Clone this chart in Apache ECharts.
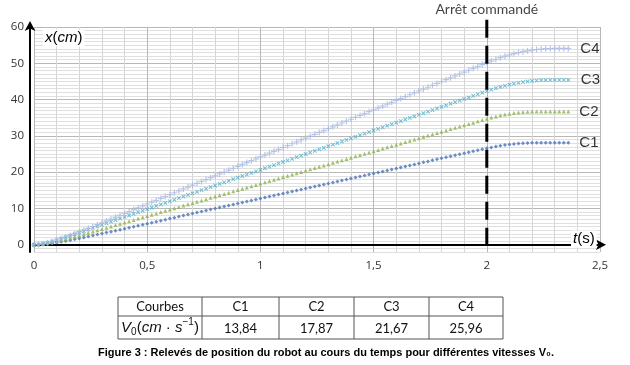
<!DOCTYPE html>
<html><head><meta charset="utf-8">
<script src="https://cdn.jsdelivr.net/npm/echarts@6/dist/echarts.min.js"></script>
<style>html,body{margin:0;padding:0;background:#fff}#c{width:630px;height:365px}</style>
</head><body><div id="c"></div>
<script>
const times = [0,0.02,0.04,0.06,0.08,0.10,0.12,0.14,0.16,0.18,0.20,0.22,0.24,0.26,0.28,0.30,0.32,0.34,0.36,0.38,0.40,
0.42,0.44,0.46,0.48,0.50,0.52,0.54,0.56,0.58,0.60,0.62,0.64,0.66,0.68,0.70,0.72,0.74,0.76,0.78,0.80,
0.82,0.84,0.86,0.88,0.90,0.92,0.94,0.96,0.98,1.00,1.02,1.04,1.06,1.08,1.10,1.12,1.14,1.16,1.18,1.20,
1.22,1.24,1.26,1.28,1.30,1.32,1.34,1.36,1.38,1.40,1.42,1.44,1.46,1.48,1.50,1.52,1.54,1.56,1.58,1.60,
1.62,1.64,1.66,1.68,1.70,1.72,1.74,1.76,1.78,1.80,1.82,1.84,1.86,1.88,1.90,1.92,1.94,1.96,1.98,2.00,
2.02,2.04,2.06,2.08,2.10,2.12,2.14,2.16,2.18,2.20,2.22,2.24,2.26,2.28,2.30,2.32,2.34,2.36];
const c1 = [0,0.03,0.12,0.25,0.41,0.59,0.80,1.02,1.26,1.50,1.75,2.01,2.27,2.53,2.80,3.07,3.34,3.61,3.89,4.16,4.44,
4.71,4.98,5.26,5.54,5.81,6.09,6.37,6.64,6.92,7.20,7.47,7.75,8.03,8.30,8.58,8.86,9.14,9.41,9.69,9.97,
10.24,10.52,10.80,11.07,11.35,11.63,11.90,12.18,12.46,12.73,13.01,13.29,13.56,13.84,14.12,14.39,14.67,14.95,15.22,15.50,
15.78,16.05,16.33,16.61,16.89,17.16,17.44,17.72,17.99,18.27,18.55,18.82,19.10,19.38,19.65,19.93,20.21,20.48,20.76,21.04,
21.31,21.59,21.87,22.14,22.42,22.70,22.97,23.25,23.53,23.81,24.08,24.36,24.64,24.91,25.19,25.47,25.74,26.02,26.30,26.57,
26.83,27.07,27.29,27.48,27.64,27.78,27.89,27.98,28.05,28.09,28.10,28.10,28.10,28.10,28.10,28.10,28.10,28.10];
const c2 = [0,0.06,0.20,0.41,0.66,0.94,1.25,1.57,1.90,2.24,2.59,2.93,3.29,3.64,3.99,4.35,4.70,5.06,5.42,5.77,6.13,
6.49,6.84,7.20,7.56,7.92,8.27,8.63,8.99,9.35,9.70,10.06,10.42,10.78,11.13,11.49,11.85,12.21,12.56,12.92,13.28,
13.63,13.99,14.35,14.71,15.06,15.42,15.78,16.14,16.49,16.85,17.21,17.57,17.92,18.28,18.64,19.00,19.35,19.71,20.07,20.43,
20.78,21.14,21.50,21.86,22.21,22.57,22.93,23.28,23.64,24.00,24.36,24.71,25.07,25.43,25.79,26.14,26.50,26.86,27.22,27.57,
27.93,28.29,28.65,29.00,29.36,29.72,30.08,30.43,30.79,31.15,31.50,31.86,32.22,32.58,32.93,33.29,33.65,34.01,34.36,34.72,
35.06,35.37,35.65,35.89,36.11,36.29,36.44,36.56,36.64,36.70,36.72,36.72,36.72,36.72,36.72,36.72,36.72,36.72];
const c3 = [0,0.08,0.28,0.57,0.90,1.27,1.66,2.07,2.48,2.90,3.33,3.76,4.19,4.62,5.05,5.48,5.92,6.35,6.78,7.22,7.65,
8.08,8.52,8.95,9.38,9.82,10.25,10.68,11.12,11.55,11.98,12.42,12.85,13.28,13.72,14.15,14.58,15.02,15.45,15.89,16.32,
16.75,17.19,17.62,18.05,18.49,18.92,19.35,19.79,20.22,20.65,21.09,21.52,21.95,22.39,22.82,23.25,23.69,24.12,24.55,24.99,
25.42,25.85,26.29,26.72,27.15,27.59,28.02,28.45,28.89,29.32,29.75,30.19,30.62,31.05,31.49,31.92,32.35,32.79,33.22,33.65,
34.09,34.52,34.95,35.39,35.82,36.25,36.69,37.12,37.55,37.99,38.42,38.86,39.29,39.72,40.16,40.59,41.02,41.46,41.89,42.32,
42.74,43.13,43.48,43.81,44.11,44.37,44.61,44.81,44.99,45.13,45.24,45.33,45.38,45.40,45.40,45.40,45.40,45.40];
const c4 = [0,0.07,0.25,0.52,0.86,1.24,1.65,2.09,2.56,3.03,3.52,4.02,4.52,5.02,5.53,6.04,6.56,7.07,7.59,8.11,8.62,
9.14,9.66,10.18,10.70,11.22,11.73,12.25,12.77,13.29,13.81,14.33,14.85,15.37,15.89,16.41,16.93,17.45,17.97,18.48,19.00,
19.52,20.04,20.56,21.08,21.60,22.12,22.64,23.16,23.68,24.20,24.71,25.23,25.75,26.27,26.79,27.31,27.83,28.35,28.87,29.39,
29.91,30.43,30.94,31.46,31.98,32.50,33.02,33.54,34.06,34.58,35.10,35.62,36.14,36.66,37.18,37.69,38.21,38.73,39.25,39.77,
40.29,40.81,41.33,41.85,42.37,42.89,43.40,43.92,44.44,44.96,45.48,46.00,46.52,47.04,47.56,48.08,48.60,49.12,49.64,50.16,
50.65,51.12,51.55,51.95,52.32,52.65,52.95,53.21,53.44,53.64,53.80,53.92,54.02,54.08,54.10,54.10,54.10,54.10];
const curveNames = ['C1','C2','C3','C4'];
const v0Values = ['13,84','17,87','21,67','25,96'];
const stopTime = 2;
const stopRange = [-2, 62];
const stopLabel = 'Arrêt commandé';
const tableHeader = 'Courbes';
const caption = 'Figure 3 : Relevés de position du robot au cours du temps pour différentes vitesses V\u2080.';

const chart = echarts.init(document.getElementById('c'), null, {renderer:'canvas'});
const curves = [c1, c2, c3, c4];
const colors = ['#4a72b6', '#8eb04c', '#4fadc6', '#a6b7df'];
const PLUS = 'path://M4,0h2v4h4v2h-4v4h-2v-4h-4v-2h4z';
const symbols = ['diamond', 'triangle', PLUS, PLUS];
const sizes = [4, 4, 5, 6];
const rots = [0, 0, 45, 0];

const series = curves.map((arr, k) => ({
  type: 'scatter', name: curveNames[k], symbol: symbols[k], symbolSize: sizes[k], symbolRotate: rots[k],
  itemStyle: {color: colors[k]}, silent: true, z: 3,
  data: arr.map((v, i) => i === arr.length - 1
    ? {value: [times[i], v], label: {show: true, position: 'right', distance: 9, formatter: curveNames[k],
        color: '#000', fontSize: 15, fontFamily: 'Liberation Sans'}}
    : [times[i], v])
}));
series.push({
  type: 'line', clip: false, silent: true, symbol: 'none', z: 4,
  lineStyle: {color: '#000', width: 3, type: [18, 8]},
  data: [[stopTime, stopRange[1]], [stopTime, stopRange[0]]]
});
series.push({
  type: 'scatter', clip: false, silent: true, symbolSize: 1, itemStyle: {color: 'rgba(0,0,0,0)'},
  data: [{value: [stopTime, stopRange[1]], label: {show: true, position: 'top', distance: 3, formatter: stopLabel,
    color: '#111', fontSize: 14, fontFamily: 'Lato'}}]
});

const ySplit = ['#e0e0e0','#e0e0e0','#b8b8b8','#e0e0e0','#e0e0e0','#e0e0e0','#e0e0e0','#e0e0e0','#e0e0e0','#e0e0e0'];
const xSplit = ['#b8b8b8','#d6d6d6','#d6d6d6','#d6d6d6','#d6d6d6'];

// table graphics
const colX = [118, 202, 279, 354, 429, 503];
const rowY = [297, 316, 339];
const els = [];
els.push({type:'rect', shape:{x:colX[0], y:rowY[0], width:colX[5]-colX[0], height:rowY[2]-rowY[0]},
  style:{fill:'#fff', stroke:'#555', lineWidth:1}});
els.push({type:'line', shape:{x1:colX[0], y1:rowY[1], x2:colX[5], y2:rowY[1]}, style:{stroke:'#555', lineWidth:1}});
for (let i = 1; i < 5; i++) els.push({type:'line', shape:{x1:colX[i], y1:rowY[0], x2:colX[i], y2:rowY[2]}, style:{stroke:'#555', lineWidth:1}});
const cellFont = {fontFamily:'Lato', fontSize:13, fill:'#111', align:'center', verticalAlign:'middle'};
els.push({type:'text', style:Object.assign({x:(colX[0]+colX[1])/2, y:(rowY[0]+rowY[1])/2, text:tableHeader}, cellFont)});
for (let k = 0; k < 4; k++) {
  els.push({type:'text', style:Object.assign({x:(colX[k+1]+colX[k+2])/2, y:(rowY[0]+rowY[1])/2, text:curveNames[k]}, cellFont)});
  els.push({type:'text', style:Object.assign({x:(colX[k+1]+colX[k+2])/2, y:(rowY[1]+rowY[2])/2 + 1, text:v0Values[k]}, cellFont)});
}
els.push({type:'text', style:{x:(colX[0]+colX[1])/2, y:(rowY[1]+rowY[2])/2, align:'center', verticalAlign:'middle',
  text:'{i|V}{sub|0}{n|(}{i|cm}{n| · }{i|s}{sup|\u22121}{n|)}',
  rich:{
    i:{fontStyle:'italic', fontSize:15, fontFamily:'Liberation Sans', lineHeight:20, fill:'#111'},
    n:{fontSize:15, fontFamily:'Liberation Sans', lineHeight:20, fill:'#111'},
    sub:{fontSize:10, fontFamily:'Liberation Sans', lineHeight:20, verticalAlign:'bottom', fill:'#111'},
    sup:{fontSize:10, fontFamily:'Liberation Sans', lineHeight:20, verticalAlign:'top', fill:'#111'}
  }}});
els.push({type:'text', style:{x:326, y:353, text:caption, align:'center', verticalAlign:'middle',
  fontFamily:'Liberation Sans', fontWeight:'bold', fontSize:11, fill:'#000'}});

els.push({type:'text', z:10, style:{x:43, y:38, verticalAlign:'middle', backgroundColor:'#fff', padding:[1,2,1,2],
  text:'{i|x}{n|(}{i|cm}{n|)}',
  rich:{i:{fontStyle:'italic', fontSize:15, fontFamily:'Liberation Sans', fill:'#000'},
        n:{fontSize:15, fontFamily:'Liberation Sans', fill:'#000'}}}});
els.push({type:'text', z:10, style:{x:571, y:239, verticalAlign:'middle', backgroundColor:'#fff', padding:[1,2,1,2],
  text:'{i|t}{n|(s)}',
  rich:{i:{fontStyle:'italic', fontSize:15, fontFamily:'Liberation Sans', fill:'#000'},
        n:{fontSize:15, fontFamily:'Liberation Sans', fill:'#000'}}}});

const option = {
  animation: false,
  backgroundColor: '#fff',
  grid: {left: 34, right: 30, top: 27, bottom: 113, containLabel: false},
  xAxis: {
    type: 'value', min: 0, max: 2.5, interval: 0.1,
    axisLine: {show: true, symbol: ['none', 'arrow'], symbolSize: [8, 10], symbolOffset: [0, 6], lineStyle: {color: '#000', width: 2}},
    axisTick: {show: false},
    axisLabel: {margin: 8, fontSize: 11.5, fontFamily: 'Open Sans', color: '#333', showMinLabel: true, showMaxLabel: true,
      formatter: v => Math.abs(v * 2 - Math.round(v * 2)) < 1e-6 ? String(Math.round(v * 2) / 2).replace('.', ',') : ''},
    splitLine: {show: true, lineStyle: {color: xSplit, width: 1}}
  },
  yAxis: {
    type: 'value', min: -2, max: 60, interval: 1, offset: 4,
    axisLine: {show: true, onZero: false, symbol: ['none', 'arrow'], symbolSize: [8, 10], symbolOffset: [0, 6], lineStyle: {color: '#000', width: 2}},
    axisTick: {show: false},
    axisLabel: {margin: 6, fontSize: 11.5, fontFamily: 'Open Sans', color: '#333',
      formatter: v => (v >= 0 && Math.abs(v % 10) < 1e-6) ? String(v) : ''},
    splitLine: {show: true, lineStyle: {color: ySplit, width: 1}}
  },
  series: series,
  graphic: els
};
chart.setOption(option);
</script>
</body></html>
